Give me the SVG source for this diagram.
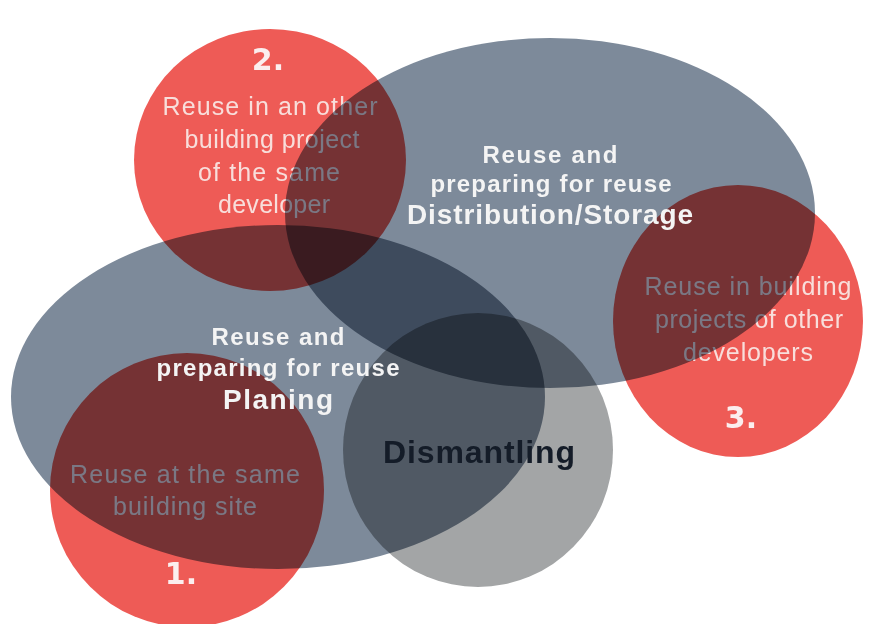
<svg xmlns="http://www.w3.org/2000/svg" width="873" height="624" viewBox="0 0 873 624">
<style>
.red{fill:#ee5b56;mix-blend-mode:multiply}
.dark{fill:#7d8a9a;mix-blend-mode:multiply}
.gray{fill:#a3a5a6;mix-blend-mode:multiply}
.sub{font-family:"Liberation Sans",Arial,sans-serif;font-size:25px;fill:#f8dedb;text-anchor:middle}
.num{font-family:"DejaVu Sans",sans-serif;font-weight:bold;font-size:30px;fill:#fbeeee;text-anchor:middle}
.head{font-family:"Liberation Sans",Arial,sans-serif;font-weight:bold;font-size:24px;fill:#f4f4f4;text-anchor:middle}
.big{font-size:28px}
.dis{font-family:"Liberation Sans",Arial,sans-serif;font-weight:bold;font-size:32px;fill:#141c28;text-anchor:middle}
</style>
<rect width="873" height="624" fill="#ffffff"/>
<g id="node-2">
<ellipse class="red" cx="270" cy="160" rx="136" ry="131"/>
<text class="num" x="268" y="70">2.</text>
<text class="sub" x="270" y="115" textLength="215" lengthAdjust="spacing">Reuse in an other</text>
<text class="sub" x="272" y="148" textLength="175" lengthAdjust="spacing">building project</text>
<text class="sub" x="269" y="181" textLength="142" lengthAdjust="spacing">of the same</text>
<text class="sub" x="274" y="213" textLength="112" lengthAdjust="spacing">developer</text>
</g>
<g id="node-3">
<ellipse class="red" cx="738" cy="321" rx="125" ry="136"/>
<text class="sub" x="748" y="295" textLength="207" lengthAdjust="spacing">Reuse in building</text>
<text class="sub" x="749" y="328" textLength="188" lengthAdjust="spacing">projects of other</text>
<text class="sub" x="748" y="361" textLength="130" lengthAdjust="spacing">developers</text>
<text class="num" x="741" y="428">3.</text>
</g>
<g id="node-1">
<ellipse class="red" cx="187" cy="490" rx="137" ry="137"/>
<text class="sub" x="185" y="483" textLength="230" lengthAdjust="spacing">Reuse at the same</text>
<text class="sub" x="185" y="515" textLength="144" lengthAdjust="spacing">building site</text>
<text class="num" x="181" y="584">1.</text>
</g>
<g id="node-distribution">
<ellipse class="dark" cx="550" cy="213" rx="265" ry="175"/>
</g>
<g id="node-planing">
<ellipse class="dark" cx="278" cy="397" rx="267" ry="172"/>
</g>
<g id="node-dismantling">
<ellipse class="gray" cx="478" cy="450" rx="135" ry="137"/>
<text class="dis" x="479" y="463" textLength="192" lengthAdjust="spacing">Dismantling</text>
</g>
<g id="label-distribution">
<text class="head" x="550" y="163" textLength="135" lengthAdjust="spacing">Reuse and</text>
<text class="head" x="551" y="192" textLength="241" lengthAdjust="spacing">preparing for reuse</text>
<text class="head big" x="550" y="224" textLength="286" lengthAdjust="spacing">Distribution/Storage</text>
</g>
<g id="label-planing">
<text class="head" x="278" y="345" textLength="133" lengthAdjust="spacing">Reuse and</text>
<text class="head" x="278" y="376" textLength="243" lengthAdjust="spacing">preparing for reuse</text>
<text class="head big" x="278" y="409" textLength="110" lengthAdjust="spacing">Planing</text>
</g>
</svg>
